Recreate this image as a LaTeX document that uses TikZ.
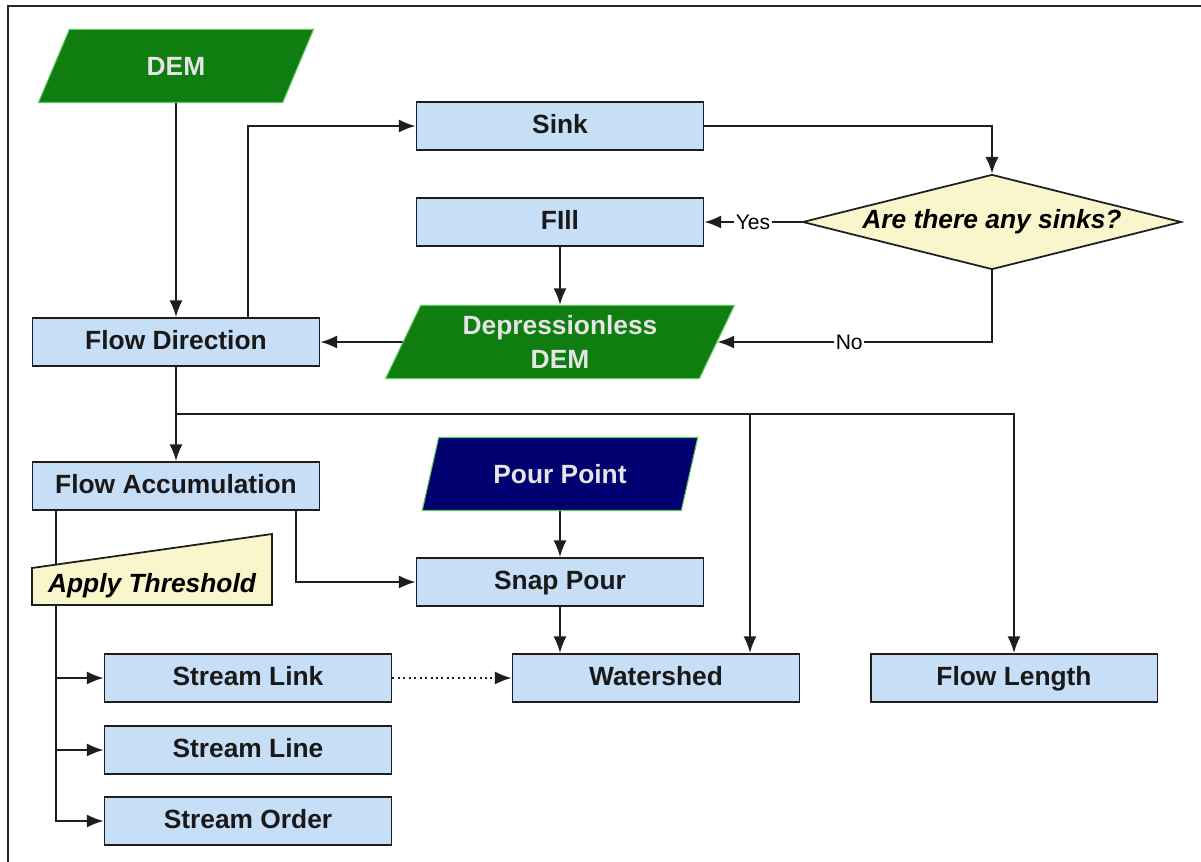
\documentclass[tikz,border=0pt]{standalone}
\usepackage{fontspec}
\setmainfont{Liberation Sans}
\usetikzlibrary{shapes.geometric,arrows.meta}
\definecolor{boxblue}{RGB}{198,222,246}
\definecolor{datagreen}{RGB}{16,125,16}
\definecolor{edgegreen}{RGB}{90,200,90}
\definecolor{pournavy}{RGB}{0,0,112}
\definecolor{askyellow}{RGB}{250,246,204}
\definecolor{linegray}{RGB}{30,30,30}
\begin{document}
\begin{tikzpicture}[x=0.02cm,y=-0.02cm,
    tool/.style={draw=linegray,line width=1.1pt,fill=boxblue,minimum width=5.74cm,minimum height=0.96cm,inner sep=0pt,
      text height=11pt,text depth=3pt,font=\fontsize{15}{18}\selectfont\bfseries,text=black!90},
    data/.style={trapezium,trapezium left angle=65,trapezium right angle=115,trapezium stretches=true,
      fill=datagreen,draw=edgegreen,line width=0.6pt,minimum width=5.52cm,minimum height=1.46cm,inner sep=0pt,
      align=center,font=\fontsize{15}{19}\selectfont\bfseries,text=white!90!black},
    ask/.style={diamond,shape aspect=4,fill=askyellow,draw=linegray,line width=1pt,minimum width=7.58cm,minimum height=1.9cm,
      inner sep=0pt,font=\fontsize{15}{18}\selectfont\bfseries\itshape},
    lbl/.style={fill=white,inner sep=1pt,font=\fontsize{12}{14}\selectfont},
    flow/.style={-{Latex[length=9.5pt,width=7.5pt]},line width=1.1pt,draw=linegray},
  ]
  \useasboundingbox (0,0) rectangle (1201,862);
  \draw[line width=1.2pt,gray!30!black] (8,900) -- (8,6) -- (1240,6);
  \fill[askyellow,draw=linegray,line width=1pt] (32,605) -- (32,568) -- (272,534) -- (272,605) -- cycle;
  \path
    (176,66) node[data] (dem){DEM}
    (560,126) node[tool] (sink){Sink}
    (992,222) node[ask] (ask){Are there any sinks?}
    (560,222) node[tool] (fill){FIll}
    (560,342) node[data,minimum width=6.98cm] (dless){Depressionless\\DEM}
    (176,342) node[tool] (fdir){Flow Direction}
    (176,486) node[tool] (facc){Flow Accumulation}
    (152,586) node[font=\fontsize{15}{18}\selectfont\bfseries\itshape] (thr){Apply Threshold}
    (560,474) node[data,fill=pournavy] (pour){Pour Point}
    (560,582) node[tool] (snap){Snap Pour}
    (656,678) node[tool] (wshed){Watershed}
    (1014,678) node[tool] (flen){Flow Length}
    (248,678) node[tool] (slink){Stream Link}
    (248,750) node[tool] (sline){Stream Line}
    (248,821) node[tool] (sorder){Stream Order};
  \coordinate (split) at (176,414);
  \coordinate (thrtop) at (56,565);
  \coordinate (thrbot) at (56,605);
  \begin{scope}[flow]
    \draw (dem) -- (fdir);
    \draw ([xshift=1.44cm]fdir.north) |- (sink);
    \draw (sink) -| (ask);
    \draw (ask) -- node[lbl]{Yes} (fill);
    \draw (ask) |- node[lbl,pos=0.76]{No} (dless);
    \draw (fill) -- (dless);
    \draw (dless) -- (fdir);
    \draw[-] (fdir) -- (split);
    \draw (split) -- (facc);
    \draw (split) -| (flen);
    \draw ([xshift=1.88cm]wshed.north |- split) -- ([xshift=1.88cm]wshed.north);
    \draw[-] ([xshift=-2.4cm]facc.south) -- (thrtop);
    \draw (thrbot) |- (slink);
    \draw (thrbot) |- (sline);
    \draw (thrbot) |- (sorder);
    \draw ([xshift=2.4cm]facc.south) |- (snap);
    \draw (pour) -- (snap);
    \draw (snap) -- (snap |- wshed.north);
    \draw[dotted] (slink) -- (wshed);
  \end{scope}
\end{tikzpicture}
\end{document}
